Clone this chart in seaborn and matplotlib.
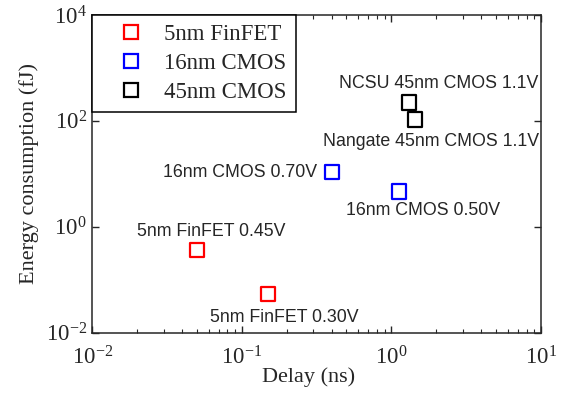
import numpy as np
import pandas as pd
import seaborn as sns
import matplotlib.pyplot as plt
from matplotlib.lines import Line2D
from matplotlib.ticker import LogLocator, NullLocator

# data
tech = ['5nm FinFET', '5nm FinFET', '16nm CMOS', '16nm CMOS', '45nm CMOS', '45nm CMOS']
delay_ns = [0.05, 0.15, 0.40, 1.12, 1.31, 1.44]
energy_fj = [0.365, 0.054, 10.8, 4.6, 222, 106]
labels = ['5nm FinFET 0.45V', '5nm FinFET 0.30V', '16nm CMOS 0.70V',
          '16nm CMOS 0.50V', 'NCSU 45nm CMOS 1.1V', 'Nangate 45nm CMOS 1.1V']
tech_order = ['5nm FinFET', '16nm CMOS', '45nm CMOS']
tech_colors = ['#ff0000', '#0000ff', '#000000']

# label placement (pixels from marker), alignment
label_offsets = [(14, 18, 'center'), (16, -24, 'center'), (-15, 0, 'right'),
                 (24, -19, 'center'), (30, 19.5, 'center'), (16, -21.5, 'center')]

sns.set_style('ticks')
plt.rcParams['font.family'] = ['Liberation Serif', 'DejaVu Serif']
plt.rcParams['mathtext.fontset'] = 'custom'
plt.rcParams['mathtext.rm'] = 'Liberation Serif'
plt.rcParams['mathtext.it'] = 'Liberation Serif:italic'
plt.rcParams['axes.linewidth'] = 1.1

df = pd.DataFrame({'tech': tech, 'delay': delay_ns, 'energy': energy_fj, 'label': labels})
palette = dict(zip(tech_order, tech_colors))

fig = plt.figure(figsize=(5.67, 3.94), dpi=100)
ax = fig.add_axes([92.3 / 567, 1 - 332.7 / 394, 448.7 / 567, 317.7 / 394])

sns.scatterplot(data=df, x='delay', y='energy', hue='tech', hue_order=tech_order,
                palette=palette, marker='s', s=110, legend=False, ax=ax)
coll = ax.collections[0]
coll.set_edgecolors(coll.get_facecolors())
coll.set_facecolors('none')
coll.set_linewidth(1.6)

ax.set_xscale('log')
ax.set_yscale('log')
ax.set_xlim(1e-2, 1e1)
ax.set_ylim(1e-2, 1e4)
ax.set_yticks([1e-2, 1e0, 1e2, 1e4])
ax.yaxis.set_minor_locator(NullLocator())
ax.xaxis.set_minor_locator(LogLocator(base=10, subs=np.arange(2, 10)))

ax.tick_params(which='both', direction='in', top=True, right=True, labelsize=16.5)
ax.tick_params(which='major', length=5, width=1)
ax.tick_params(which='minor', length=3, width=0.8)
ax.tick_params(axis='x', which='major', pad=10)
ax.tick_params(axis='y', which='major', pad=4)

ax.set_xlabel('Delay (ns)', fontsize=16)
ax.set_ylabel('Energy consumption (fJ)', fontsize=16)
ax.xaxis.set_label_coords(0.481, -0.11)
ax.yaxis.set_label_coords(-0.118, 0.5)

for (x, y, lab), (dx, dy, ha) in zip(zip(delay_ns, energy_fj, labels), label_offsets):
    ax.annotate(lab, xy=(x, y), xytext=(dx, dy), textcoords='offset pixels',
                ha=ha, va='center', fontsize=12.8,
                family=['Liberation Sans', 'DejaVu Sans'])

handles = [Line2D([], [], linestyle='', marker='s', markersize=10,
                  markerfacecolor='none', markeredgecolor=c, markeredgewidth=1.6)
           for c in tech_colors]
leg = ax.legend(handles, tech_order, loc='upper left', bbox_to_anchor=(0.0, 1.0),
                borderaxespad=0, fontsize=16.5, fancybox=False, framealpha=1,
                edgecolor='black', handletextpad=0.15, borderpad=0.4,
                labelspacing=0.34, handlelength=2.6)
leg.get_frame().set_linewidth(1.1)

fig.savefig('out.png', dpi=100)
